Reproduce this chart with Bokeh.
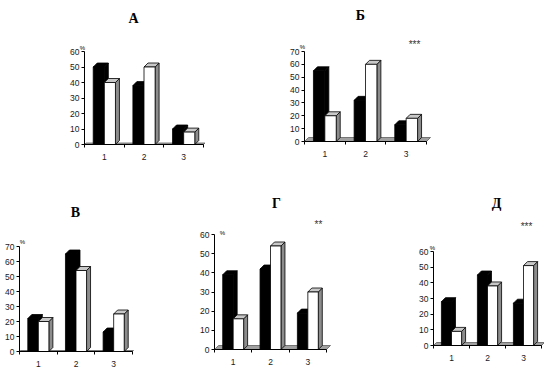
from bokeh.plotting import figure
from bokeh.models import FixedTicker, Label, Range1d, LinearAxis
from bokeh.embed import file_html
from bokeh.resources import INLINE

categories = ["1", "2", "3"]

titles = ["А", "Б", "В", "Г", "Д"]
stars = ["", "***", "", "**", "***"]

black_A = [50, 38, 10]
white_A = [40, 50, 8]
yticks_A = [0, 10, 20, 30, 40, 50, 60]

black_B = [55, 32, 13]
white_B = [20, 60, 18]
yticks_B = [0, 10, 20, 30, 40, 50, 60, 70]

black_V = [22, 65, 13]
white_V = [20, 54, 25]
yticks_V = [0, 10, 20, 30, 40, 50, 60, 70]

black_G = [39, 42, 19]
white_G = [16, 54, 30]
yticks_G = [0, 10, 20, 30, 40, 50, 60]

black_D = [28, 45, 27]
white_D = [9, 38, 51]
yticks_D = [0, 10, 20, 30, 40, 50, 60]

TICK_FONT = "Liberation Sans"
TITLE_FONT = "Liberation Serif"

W, H = 544, 372
OX, OY = 4, 1  # observed position of the canvas origin on the page

p = figure(width=W, height=H, x_range=Range1d(0, W), y_range=Range1d(0, H),
           x_axis_type=None, y_axis_type=None,
           output_backend="svg", toolbar_location=None,
           min_border=0)
p.outline_line_color = None
p.xgrid.visible = False
p.ygrid.visible = False
p.background_fill_color = "white"
p.border_fill_color = "white"


def cx(px):
    return px - OX


def cy(py):
    return OY + H - py


def label(text, xy, font, size, bold=False, color="black"):
    p.add_layout(Label(x=cx(xy[0]), y=cy(xy[1]), text=text, text_font=font,
                       text_font_size=size,
                       text_font_style="bold" if bold else "normal",
                       text_color=color, text_align="center",
                       text_baseline="middle"))


def panel(key, title, star, black, white, yticks, frame_box, title_xy, pct_xy,
          stars_xy, floor_px):
    ax_left, ax_right3, y_top, y_bottom = frame_box
    cat = (ax_right3 - ax_left) / 3.0
    ymax = yticks[-1]
    k = (y_bottom - y_top) / ymax
    xs0 = -cx(ax_left) / cat
    ys0 = -cy(y_bottom) / k
    xr, yr = key + "x", key + "y"
    p.extra_x_ranges[xr] = Range1d(xs0, xs0 + W / cat)
    p.extra_y_ranges[yr] = Range1d(ys0, ys0 + H / k)
    rk = dict(x_range_name=xr, y_range_name=yr)

    depth_px = 4.0
    dx = depth_px / cat
    dy = depth_px / k
    w = 0.28

    fdx = floor_px / cat
    fdy = floor_px / k
    p.patch([0, 3, 3 + fdx, fdx], [0, 0, fdy, fdy], fill_color="#a0a0a0",
            line_color="#606060", line_width=0.8, **rk)

    def bars(vals, left_off, front, topc, sidec):
        sx, sy, tx, ty, l, r, t = [], [], [], [], [], [], []
        for i, v in enumerate(vals):
            c = i + 0.5
            x0 = c + left_off
            x1 = x0 + w
            sx.append([x1, x1 + dx, x1 + dx, x1])
            sy.append([0, dy, v + dy, v])
            tx.append([x0, x1, x1 + dx, x0 + dx])
            ty.append([v, v, v + dy, v + dy])
            l.append(x0); r.append(x1); t.append(v)
        p.patches(sx, sy, fill_color=sidec, line_color="black", line_width=0.8, **rk)
        p.patches(tx, ty, fill_color=topc, line_color="black", line_width=0.8, **rk)
        p.quad(left=l, right=r, bottom=0, top=t, fill_color=front,
               line_color="black", line_width=0.8, **rk)

    bars(black, -w, "black", "black", "black")
    bars(white, 0.0, "white", "#c8c8c8", "#8c8c8c")

    xa = LinearAxis(fixed_location=0, bounds=(0, 3), **rk)
    xa.ticker = FixedTicker(ticks=[0.5, 1.5, 2.5], minor_ticks=[0, 1, 2, 3])
    xa.major_label_overrides = {i + 0.5: c for i, c in enumerate(categories)}
    xa.major_tick_out = 0
    xa.major_tick_in = 0
    xa.minor_tick_out = 3
    xa.minor_tick_in = 0
    xa.major_label_standoff = 6

    ya = LinearAxis(fixed_location=0, bounds=(0, ymax), **rk)
    ya.ticker = FixedTicker(ticks=yticks, minor_ticks=[])
    ya.major_tick_out = 3
    ya.major_tick_in = 0
    ya.minor_tick_out = 0
    ya.minor_tick_in = 0
    ya.major_label_standoff = 2

    for ax in (xa, ya):
        ax.axis_line_color = "black"
        ax.axis_line_width = 1
        ax.major_tick_line_color = "black"
        ax.minor_tick_line_color = "black"
        ax.major_label_text_font = TICK_FONT
        ax.major_label_text_font_size = "8.5px"
        ax.major_label_text_color = "#1a1a1a"
    p.add_layout(xa, "below")
    p.add_layout(ya, "left")

    label(title, title_xy, TITLE_FONT, "14px", bold=True)
    label("%", pct_xy, TICK_FONT, "6px")
    if star:
        label(star, stars_xy, TICK_FONT, "10px", color="#333333")


panel("A", titles[0], stars[0], black_A, white_A, yticks_A,
      (88, 207, 52, 145), (137, 19), (86, 48), None, 1.5)
panel("B", titles[1], stars[1], black_B, white_B, yticks_B,
      (308, 430, 52, 142), (364, 16), (306, 47), (418, 45), 4.0)
panel("V", titles[2], stars[2], black_V, white_V, yticks_V,
      (23, 136, 247, 352), (79, 213), (26, 242), None, 1.0)
panel("G", titles[3], stars[3], black_G, white_G, yticks_G,
      (218, 330, 235, 350), (280, 204), (226, 233), (322, 225), 4.0)
panel("D", titles[4], stars[4], black_D, white_D, yticks_D,
      (437, 545, 252, 346), (500, 204), (436, 248), (530, 227), 3.0)

open("out.html", "w").write(file_html(p, INLINE))
